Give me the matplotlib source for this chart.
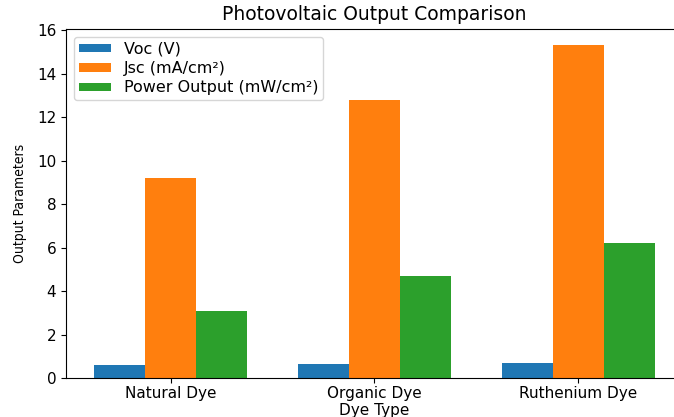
import numpy as np
import matplotlib
matplotlib.use("Agg")
import matplotlib.pyplot as plt

# Chart data
dye_types = ["Natural Dye", "Organic Dye", "Ruthenium Dye"]
voc = [0.60, 0.63, 0.71]
jsc = [9.2, 12.8, 15.3]
power_output = [3.1, 4.7, 6.2]


def plot_photovoltaic_output() -> None:
    fig = plt.figure(figsize=(6.74, 4.17), dpi=100)
    ax = fig.add_axes([0.098, 0.0935, 0.915, 0.8375])

    x = np.arange(len(dye_types))
    width = 0.25

    # Grouped bars
    ax.bar(x - width, voc, width, label="Voc (V)")
    ax.bar(x, jsc, width, label="Jsc (mA/cm²)")
    ax.bar(x + width, power_output, width, label="Power Output (mW/cm²)")

    # Labels
    ax.set_title("Photovoltaic Output Comparison", fontsize=13.5)
    ax.set_xlabel("Dye Type", fontsize=11, labelpad=1.5)
    ax.set_ylabel("Output Parameters", fontstretch="condensed", fontsize=10,
                  labelpad=7)
    ax.set_xticks(x)
    ax.set_xticklabels(dye_types)
    ax.tick_params(labelsize=11)
    ax.tick_params(axis="x", pad=2.5)
    ax.legend(loc="upper left", fontsize=11.5, borderpad=0.3,
              labelspacing=0.28, handleheight=0.45)

    fig.savefig("out.png", dpi=100)
    plt.close(fig)


if __name__ == "__main__":
    plot_photovoltaic_output()
